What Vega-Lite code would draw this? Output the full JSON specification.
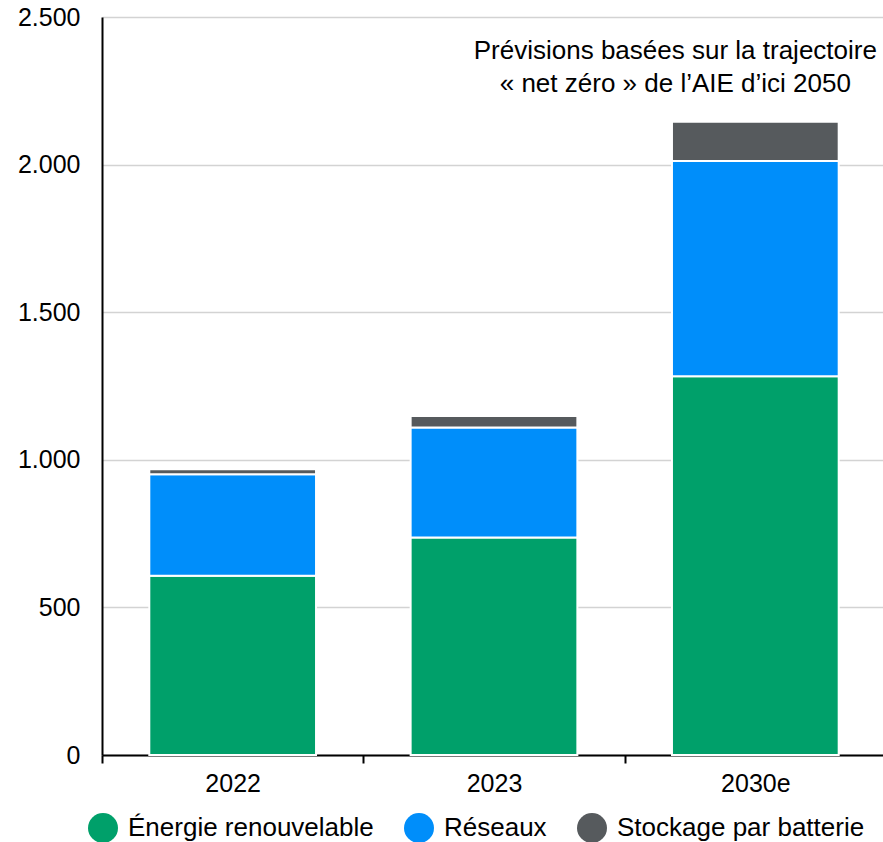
{
  "$schema": "https://vega.github.io/schema/vega-lite/v6.json",
  "autosize": {"type": "none"},
  "width": 784,
  "height": 738,
  "padding": {"left": 102, "top": 17, "right": 0, "bottom": 87},
  "background": "white",
  "config": {
    "font": "Liberation Sans",
    "view": {"stroke": null}
  },
  "layer": [
    {
      "data": {
        "values": [
          {"annee": "2022", "categorie": "Énergie renouvelable", "valeur": 607, "o": 1},
          {"annee": "2022", "categorie": "Réseaux", "valeur": 344, "o": 2},
          {"annee": "2022", "categorie": "Stockage par batterie", "valeur": 17, "o": 3},
          {"annee": "2023", "categorie": "Énergie renouvelable", "valeur": 737, "o": 1},
          {"annee": "2023", "categorie": "Réseaux", "valeur": 372, "o": 2},
          {"annee": "2023", "categorie": "Stockage par batterie", "valeur": 39, "o": 3},
          {"annee": "2030e", "categorie": "Énergie renouvelable", "valeur": 1283, "o": 1},
          {"annee": "2030e", "categorie": "Réseaux", "valeur": 729, "o": 2},
          {"annee": "2030e", "categorie": "Stockage par batterie", "valeur": 133, "o": 3}
        ]
      },
      "mark": {"type": "bar", "stroke": "white", "strokeWidth": 2},
      "encoding": {
        "x": {
          "field": "annee", "type": "nominal", "sort": ["2022", "2023", "2030e"],
          "scale": {"paddingInner": 0.362, "paddingOuter": 0.181},
          "axis": {
            "title": null, "labelAngle": 0,
            "domainColor": "black", "domainWidth": 2,
            "ticks": true, "tickColor": "black", "tickWidth": 2, "tickSize": 8,
            "tickOffset": -130.67, "labelOffset": 130.67,
            "labelFontSize": 25, "labelColor": "black", "labelPadding": 8,
            "grid": false
          }
        },
        "y": {
          "field": "valeur", "type": "quantitative", "stack": "zero",
          "scale": {"domain": [0, 2500], "nice": false},
          "axis": {
            "title": null, "values": [0, 500, 1000, 1500, 2000, 2500],
            "labelExpr": "replace(format(datum.value, ','), ',', '.')",
            "domainColor": "black", "domainWidth": 2, "ticks": false,
            "labelFontSize": 25, "labelColor": "black", "labelPadding": 22,
            "grid": true, "gridColor": "#d3d3d3", "gridWidth": 1.5
          }
        },
        "color": {
          "field": "categorie", "type": "nominal",
          "scale": {
            "domain": ["Énergie renouvelable", "Réseaux", "Stockage par batterie"],
            "range": ["#00A06A", "#008EFA", "#565A5D"]
          },
          "legend": {
            "title": null, "orient": "none", "direction": "horizontal",
            "legendX": -14, "legendY": 796,
            "symbolType": "circle", "symbolSize": 900, "symbolStrokeWidth": 0,
            "labelFontSize": 26, "labelColor": "black", "labelOffset": 10,
            "columnPadding": 30, "labelLimit": 400
          }
        },
        "order": {"field": "o", "type": "quantitative"}
      }
    },
    {
      "data": {"values": [{"note": "annotation"}]},
      "mark": {
        "type": "text", "align": "center", "baseline": "alphabetic",
        "fontSize": 26, "color": "black", "lineHeight": 33, "dx": -80,
        "text": ["Prévisions basées sur la trajectoire", "« net zéro » de l’AIE d’ici 2050"]
      },
      "encoding": {
        "x": {"datum": "2030e", "type": "nominal"},
        "y": {"datum": 2358, "type": "quantitative"}
      }
    }
  ]
}
